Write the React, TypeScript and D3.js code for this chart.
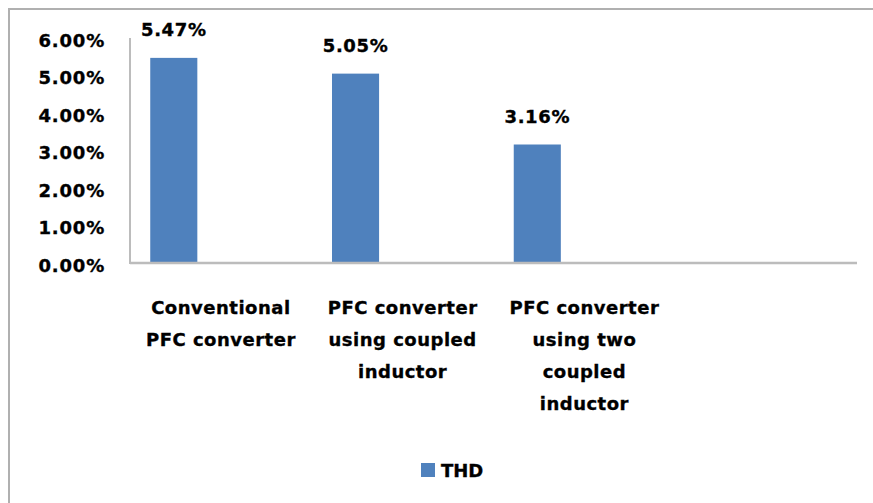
import React from "react";
import * as d3 from "d3";

// Chart data
const categories: string[][] = [
  ["Conventional", "PFC converter"],
  ["PFC converter", "using coupled", "inductor"],
  ["PFC converter", "using two", "coupled", "inductor"],
  [],
];
const thdValues: number[] = [5.47, 5.05, 3.16];
const yTicks: number[] = [0, 1, 2, 3, 4, 5, 6];
const seriesName = "THD";

const W = 873;
const H = 503;
const plot = { left: 130, right: 857, top: 38, bottom: 263 };
const FONT = "'DejaVu Sans', Verdana, sans-serif";
const BAR_COLOR = "#4F81BD";
const AXIS_COLOR = "#BCBCBC";
const TEXT_STROKE = { stroke: "#000", strokeWidth: 0.35 };

export default function App() {
  const catKeys = categories.map((_, i) => String(i));
  const x = d3.scaleBand<string>().domain(catKeys).range([plot.left, plot.right]);
  // each category holds three series slots; only the first one carries data
  const slot = d3
    .scaleBand<number>()
    .domain([0, 1, 2])
    .range([0, x.bandwidth()])
    .paddingOuter(0.43);
  const y = d3.scaleLinear().domain([0, 6]).range([plot.bottom, plot.top]);

  return (
    <svg
      width={W}
      height={H}
      style={{ position: "absolute", left: 0, top: 0, background: "#fff" }}
      fontFamily={FONT}
      fontWeight="bold"
    >
      <rect x={9} y={9} width={W + 20} height={H + 20} fill="#fff" stroke="#B0B0B0" strokeWidth={2} />

      {/* bars */}
      {thdValues.map((v, i) => {
        const bx = (x(String(i)) as number) + (slot(0) as number);
        return (
          <g key={i}>
            <rect x={bx} y={y(v)} width={slot.bandwidth()} height={y(0) - y(v)} fill={BAR_COLOR} />
            <text
              x={bx + slot.bandwidth() / 2}
              y={y(v) - 28}
              textAnchor="middle"
              dominantBaseline="central"
              fontSize={18}
              letterSpacing={0.6}
              fill="#000"
              {...TEXT_STROKE}
            >
              {v.toFixed(2)}%
            </text>
          </g>
        );
      })}

      {/* axes */}
      <line x1={plot.left} x2={plot.left} y1={plot.top} y2={plot.bottom + 1} stroke={AXIS_COLOR} strokeWidth={2} />
      <line x1={plot.left} x2={plot.right} y1={plot.bottom} y2={plot.bottom} stroke={AXIS_COLOR} strokeWidth={2.5} />

      {yTicks.map((t) => (
        <text
          key={t}
          x={105}
          y={y(t) + 2}
          textAnchor="end"
          dominantBaseline="central"
          fontSize={18}
          letterSpacing={0.8}
          fill="#000"
          {...TEXT_STROKE}
        >
          {t.toFixed(2)}%
        </text>
      ))}

      {categories.map((lines, i) =>
        lines.map((ln, j) => (
          <text
            key={`${i}-${j}`}
            x={(x(String(i)) as number) + x.bandwidth() / 2}
            y={307 + j * 32}
            textAnchor="middle"
            dominantBaseline="central"
            fontSize={18}
            letterSpacing={0.5}
            fill="#000"
            {...TEXT_STROKE}
          >
            {ln}
          </text>
        ))
      )}

      {/* legend */}
      <rect x={421} y={463} width={14} height={14} fill={BAR_COLOR} />
      <text x={441} y={470} dominantBaseline="central" fontSize={18} fill="#000" {...TEXT_STROKE}>
        {seriesName}
      </text>
    </svg>
  );
}
